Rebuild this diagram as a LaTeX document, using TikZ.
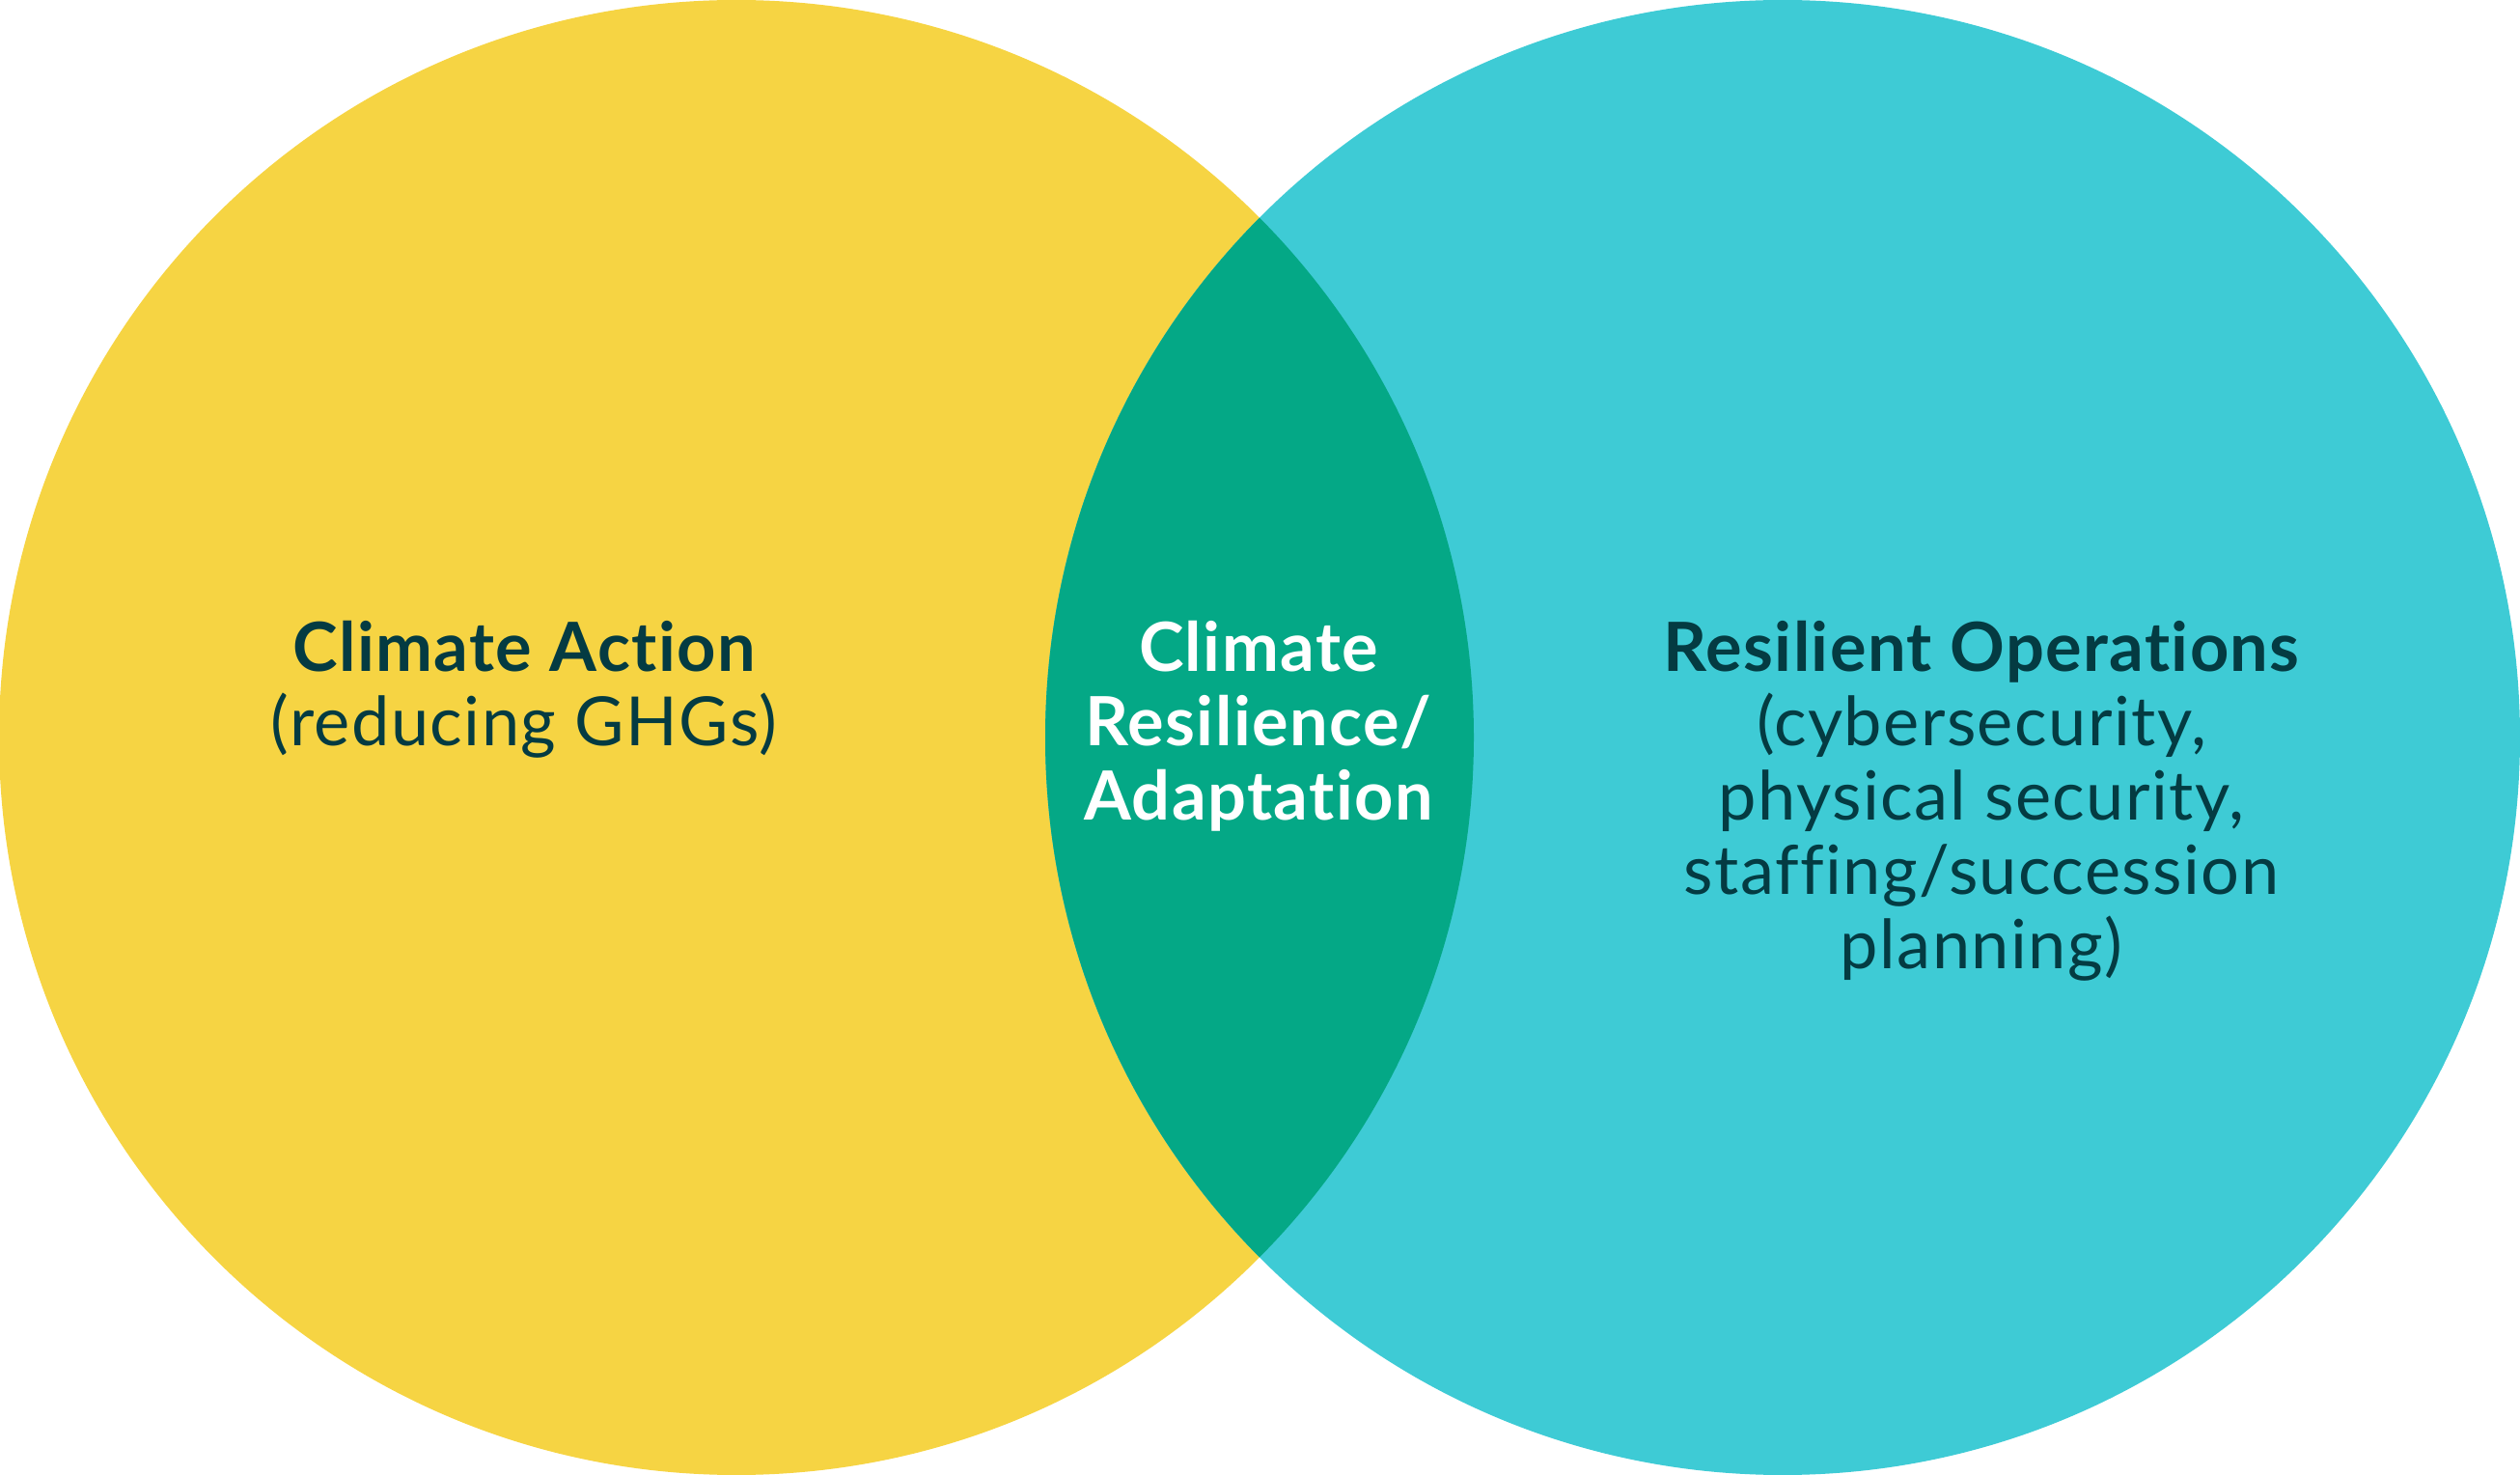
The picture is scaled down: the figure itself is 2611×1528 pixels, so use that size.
\documentclass[tikz,border=0pt]{standalone}
\usepackage{fontspec}
\setmainfont{Lato}[LetterSpace=2,Ligatures={NoCommon}]
\definecolor{cyellow}{HTML}{F6D443}
\definecolor{ccyan}{HTML}{3ECBD5}
\definecolor{cgreen}{HTML}{04A886}
\definecolor{ctext}{HTML}{043B42}
\tikzset{
  lbl/.style={align=center, text=ctext, font=\fontsize{20}{22}\selectfont, inner sep=0pt},
  lblw/.style={lbl, text=white}
}
\begin{document}
\begin{tikzpicture}[x=0.01cm,y=-0.01cm]
\useasboundingbox (0,0) rectangle (2611,1528);
\fill[cyellow] (763,764) circle (764);
\fill[ccyan] (1847,764) circle (764);
\begin{scope}
  \clip (763,764) circle (764);
  \fill[cgreen] (1847,764) circle (764);
\end{scope}
\node[lbl, anchor=base] (a1) at (543,696) {\bfseries Climate Action};
\node[lbl, anchor=base] (a2) at (543,773) {(reducing GHGs)};
\node[lblw, anchor=base] (c1) at (1304,696) {\bfseries Climate};
\node[lblw, anchor=base] (c2) at (1304,773) {\bfseries Resilience/};
\node[lblw, anchor=base] (c3) at (1304,850) {\bfseries Adaptation};
\node[lbl, anchor=base] (r1) at (2053,696) {\bfseries Resilient Operations};
\node[lbl, anchor=base] (r2) at (2053,773) {(cybersecurity,};
\node[lbl, anchor=base] (r3) at (2053,850) {physical security,};
\node[lbl, anchor=base] (r4) at (2053,927) {staffing/succession};
\node[lbl, anchor=base] (r5) at (2053,1004) {planning)};
\end{tikzpicture}
\end{document}
